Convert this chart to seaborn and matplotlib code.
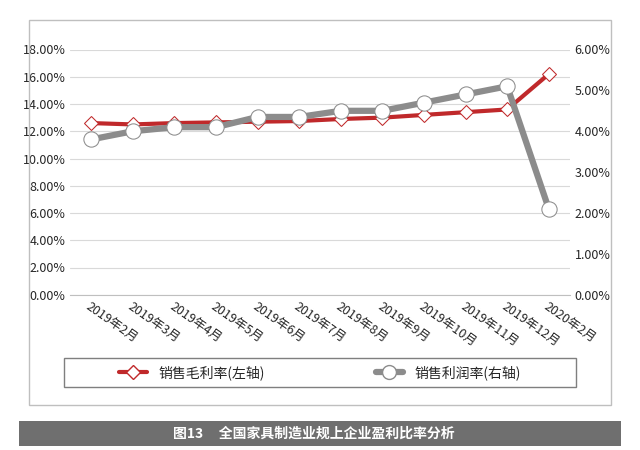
import matplotlib
matplotlib.use("Agg")
import matplotlib.pyplot as plt
import seaborn as sns
import pandas as pd
from matplotlib.patches import Rectangle

sns.set_style("white")
plt.rcParams['font.family'] = ['Noto Sans CJK SC', 'DejaVu Sans']

months = ["2019年2月","2019年3月","2019年4月","2019年5月","2019年6月","2019年7月",
          "2019年8月","2019年9月","2019年10月","2019年11月","2019年12月","2020年2月"]
gross = [12.6, 12.5, 12.6, 12.65, 12.7, 12.75, 12.9, 13.0, 13.2, 13.4, 13.6, 16.2]
net = [3.8, 4.0, 4.1, 4.1, 4.35, 4.35, 4.5, 4.5, 4.7, 4.9, 5.1, 2.1]

df = pd.DataFrame({"x": range(len(months)), "gross": gross, "net": net})

fig = plt.figure(figsize=(6.4, 4.5), dpi=100)
ax = fig.add_axes([0.11, 0.345, 0.78, 0.545])
ax2 = ax.twinx()

sns.lineplot(data=df, x="x", y="gross", ax=ax, color="#c0292b", lw=3,
             marker="D", markersize=7, markerfacecolor="white", markeredgecolor="#c0292b", zorder=3)
sns.lineplot(data=df, x="x", y="net", ax=ax2, color="#8c8c8c", lw=4.5,
             marker="o", markersize=11, markerfacecolor="white", markeredgecolor="#8c8c8c")

ax.set_xlim(-0.5, 11.5)
ax.set_ylim(0, 18)
ax2.set_ylim(0, 6)
ax.set_yticks([i * 2 for i in range(10)])
ax.set_yticklabels([f"{i*2:.2f}%" for i in range(10)], fontsize=9)
ax2.set_yticks(range(7))
ax2.set_yticklabels([f"{i:.2f}%" for i in range(7)], fontsize=9)
ax.set_xticks(range(len(months)))
ax.set_xticklabels(months, rotation=-35, ha="left", rotation_mode="anchor", fontsize=9)
ax.set_xlabel(""); ax.set_ylabel(""); ax2.set_ylabel("")
ax.grid(axis="y", color="#d9d9d9", lw=0.8)
for a in (ax, ax2):
    for s in a.spines.values():
        s.set_visible(False)
    a.tick_params(length=0)
ax.spines["bottom"].set_visible(True)
ax.spines["bottom"].set_color("#bfbfbf")

# outer frame
fig.patches.append(Rectangle((0.045, 0.1), 0.91, 0.855, transform=fig.transFigure,
                             fill=False, ec="#bfbfbf", lw=1))
# legend box
fig.patches.append(Rectangle((0.1, 0.14), 0.8, 0.065, transform=fig.transFigure,
                             fill=False, ec="#7f7f7f", lw=1))
h1, = ax.plot([], [], color="#c0292b", lw=3, marker="D", markersize=7, mfc="white", mec="#c0292b")
h2, = ax.plot([], [], color="#8c8c8c", lw=4.5, marker="o", markersize=10, mfc="white", mec="#8c8c8c")
fig.legend([h1, h2], ["销售毛利率(左轴)", "销售利润率(右轴)"], loc="center",
           bbox_to_anchor=(0.5, 0.172), ncol=2, frameon=False, fontsize=10, columnspacing=8)

# title bar
fig.patches.append(Rectangle((0.03, 0.01), 0.94, 0.055, transform=fig.transFigure,
                             fc="#6f6f6f", ec="none"))
fig.text(0.27, 0.037, "图13     全国家具制造业规上企业盈利比率分析", color="white",
         fontsize=10, va="center", ha="left", fontweight="bold")

fig.savefig("out.png", dpi=100)
